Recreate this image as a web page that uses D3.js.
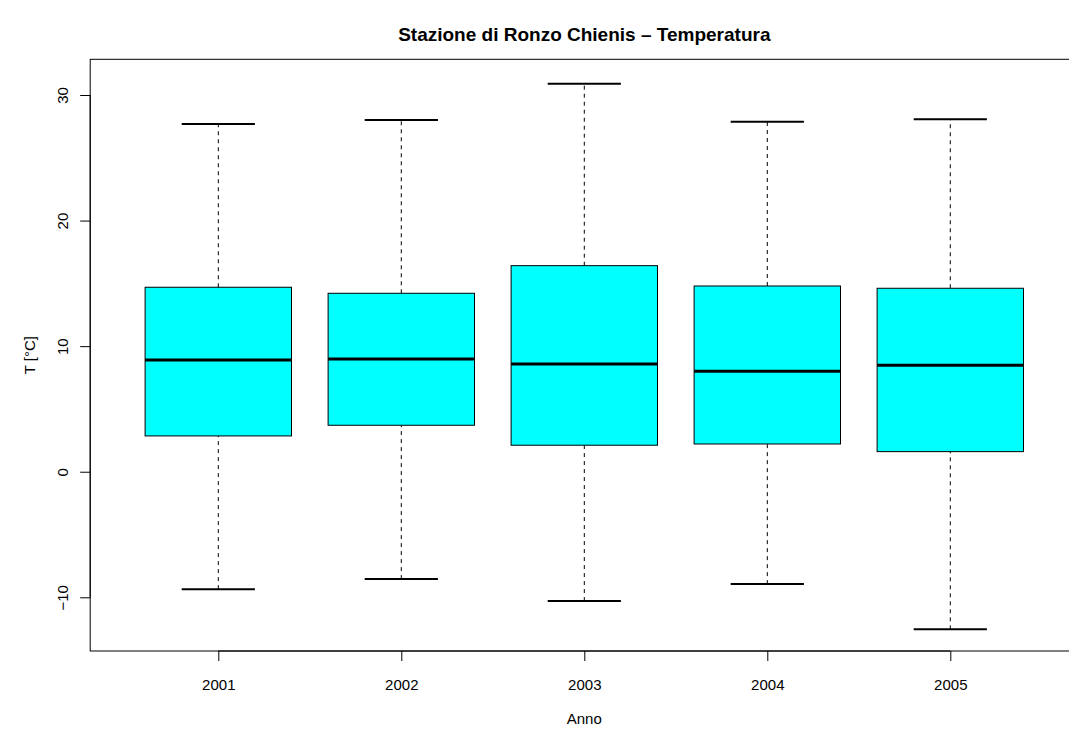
<!DOCTYPE html>
<html>
<head>
<meta charset="utf-8">
<script src="https://cdn.jsdelivr.net/npm/d3@7"></script>
<style>
html,body{margin:0;padding:0;background:#fff;}
svg{display:block;}
text{font-family:"Liberation Sans",Arial,Helvetica,sans-serif;fill:#000;}
</style>
</head>
<body>
<svg id="chart" width="1069" height="731"></svg>
<script>
const years = ["2001","2002","2003","2004","2005"];
const whiskerLow = [-9.35, -8.55, -10.3, -8.95, -12.55];
const q1 = [2.85, 3.70, 2.11, 2.21, 1.60];
const median = [8.9, 8.98, 8.58, 8.0, 8.48];
const q3 = [14.69, 14.21, 16.41, 14.79, 14.61];
const whiskerHigh = [27.7, 28.0, 30.9, 27.87, 28.07];
const yTicks = [-10, 0, 10, 20, 30];

const svg = d3.select("#chart");
const pLeft = 90.2, pRight = 1078.4, pTop = 59.3, pBottom = 651;

const x = d3.scaleLinear().domain([0.3, 5.7]).range([pLeft, pRight]);
const y = d3.scaleLinear().domain([-10, 30]).range([597.3, 95]);

const data = years.map((yr, i) => ({
  yr, i: i + 1, lo: whiskerLow[i], q1: q1[i], med: median[i], q3: q3[i], hi: whiskerHigh[i]
}));

const boxHalf = (x(1.4) - x(1));
const capHalf = boxHalf / 2;

const g = svg.append("g");

g.selectAll(".wl").data(data).enter().append("line")
  .attr("x1", d => x(d.i)).attr("x2", d => x(d.i))
  .attr("y1", d => y(d.lo)).attr("y2", d => y(d.q1))
  .attr("stroke", "#000").attr("stroke-width", 1).attr("stroke-dasharray", "4,4");
g.selectAll(".wh").data(data).enter().append("line")
  .attr("x1", d => x(d.i)).attr("x2", d => x(d.i))
  .attr("y1", d => y(d.q3)).attr("y2", d => y(d.hi))
  .attr("stroke", "#000").attr("stroke-width", 1).attr("stroke-dasharray", "4,4");

g.selectAll(".cl").data(data).enter().append("line")
  .attr("x1", d => x(d.i) - capHalf).attr("x2", d => x(d.i) + capHalf)
  .attr("y1", d => y(d.lo)).attr("y2", d => y(d.lo))
  .attr("stroke", "#000").attr("stroke-width", 2);
g.selectAll(".ch").data(data).enter().append("line")
  .attr("x1", d => x(d.i) - capHalf).attr("x2", d => x(d.i) + capHalf)
  .attr("y1", d => y(d.hi)).attr("y2", d => y(d.hi))
  .attr("stroke", "#000").attr("stroke-width", 2);

g.selectAll(".box").data(data).enter().append("rect")
  .attr("x", d => x(d.i) - boxHalf).attr("width", 2 * boxHalf)
  .attr("y", d => y(d.q3)).attr("height", d => y(d.q1) - y(d.q3))
  .attr("fill", "#00ffff").attr("stroke", "#000").attr("stroke-width", 1);

g.selectAll(".med").data(data).enter().append("line")
  .attr("x1", d => x(d.i) - boxHalf).attr("x2", d => x(d.i) + boxHalf)
  .attr("y1", d => y(d.med)).attr("y2", d => y(d.med))
  .attr("stroke", "#000").attr("stroke-width", 3);

svg.append("rect").attr("x", pLeft).attr("y", pTop)
  .attr("width", pRight - pLeft).attr("height", pBottom - pTop)
  .attr("fill", "none").attr("stroke", "#000").attr("stroke-width", 1);

const yAxis = d3.axisLeft(y).tickValues(yTicks).tickSize(10).tickPadding(0)
  .tickFormat(d => d < 0 ? "\u2212" + Math.abs(d) : d);
const ya = svg.append("g").attr("transform", `translate(${pLeft},0)`).call(yAxis);
ya.select(".domain").attr("d", `M0,${y(-10)}V${y(30)}`).attr("stroke", "#000");
ya.selectAll(".tick line").attr("stroke", "#000");
ya.selectAll(".tick text")
  .attr("font-size", 15).attr("font-family", "Liberation Sans, Arial, sans-serif")
  .attr("text-anchor", "middle").attr("dy", 0)
  .attr("transform", "translate(-22,0) rotate(-90)")
  .attr("x", 0).attr("y", 0);

const xAxis = d3.axisBottom(x).tickValues([1,2,3,4,5]).tickSize(10).tickPadding(18)
  .tickFormat((d) => years[d - 1]);
const xa = svg.append("g").attr("transform", `translate(0,${pBottom})`).call(xAxis);
xa.select(".domain").attr("d", `M${x(1)},0H${x(5)}`).attr("stroke", "#000");
xa.selectAll(".tick line").attr("stroke", "#000");
xa.selectAll(".tick text").attr("font-size", 15).attr("font-family", "Liberation Sans, Arial, sans-serif");

svg.append("text").attr("x", (pLeft + pRight) / 2).attr("y", 41)
  .attr("text-anchor", "middle").attr("font-weight", "bold").attr("font-size", 19)
  .text("Stazione di Ronzo Chienis \u2013 Temperatura");
svg.append("text").attr("x", (pLeft + pRight) / 2).attr("y", 724)
  .attr("text-anchor", "middle").attr("font-size", 15).text("Anno");
svg.append("text").attr("transform", `translate(35,${(pTop + pBottom) / 2}) rotate(-90)`)
  .attr("text-anchor", "middle").attr("font-size", 15).text("T [\u00b0C]");
</script>
</body>
</html>
